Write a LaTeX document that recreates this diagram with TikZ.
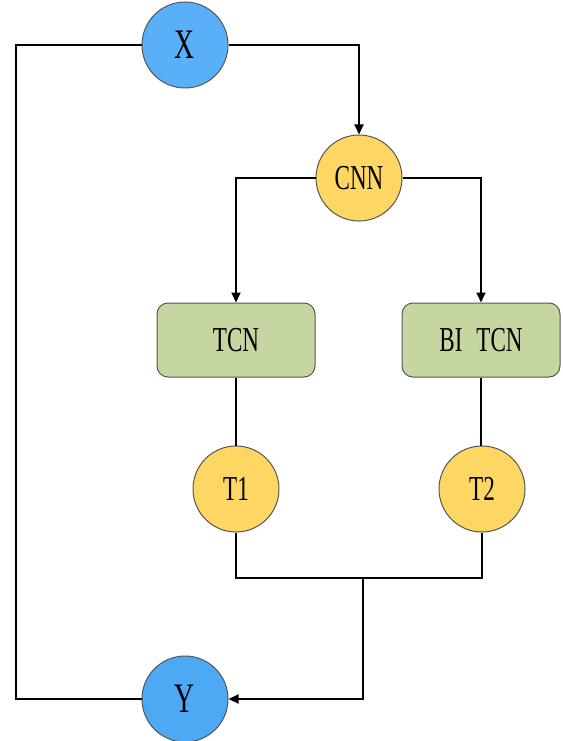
\documentclass[tikz,border=0pt]{standalone}
\usepackage{fontspec}
\setmainfont{Liberation Serif}
\newfontfamily\condfont[FakeStretch=0.66]{Liberation Serif}
\usetikzlibrary{arrows.meta}
\definecolor{cblue}{HTML}{5AB0F8}
\definecolor{cblueb}{HTML}{4EA9F5}
\definecolor{cyel}{HTML}{FDD663}
\definecolor{cgreen}{HTML}{C5D6A0}
\definecolor{cedge}{HTML}{555555}
\begin{document}
\begin{tikzpicture}[x=1pt,y=-1pt,
  circ/.style={circle,draw=cedge,line width=1pt,minimum size=86pt,inner sep=0pt,font=\condfont\fontsize{35}{35}\selectfont},
  bigcirc/.style={circ,font=\condfont\fontsize{42}{42}\selectfont},
  boxnode/.style={rectangle,rounded corners=11pt,draw=cedge,line width=1pt,fill=cgreen,minimum width=158pt,minimum height=74pt,inner sep=0pt,font=\condfont\fontsize{35}{35}\selectfont},
  conn/.style={line width=1.8pt,black},
  arr/.style={conn,-{Triangle[length=10pt,width=9pt]}}]
\useasboundingbox (0,0) rectangle (562,741);
\node[bigcirc,fill=cblue] (X) at (185,45) {X};
\node[bigcirc,fill=cblueb] (Y) at (185,699) {Y};
\node[circ,fill=cyel] (CNN) at (359,178) {CNN};
\node[boxnode] (TCN) at (236,340) {TCN};
\node[boxnode] (BI) at (481,340) {BI\hspace{14pt}TCN};
\node[circ,fill=cyel] (T1) at (236,489) {T1};
\node[circ,fill=cyel] (T2) at (482,489) {T2};
\coordinate (lc) at (16,45);
\coordinate (m) at (363,578);
\draw[conn] (X.west) -- (lc) |- (Y.west);
\draw[arr] (X.east) -| (CNN.north);
\draw[arr] (CNN.west) -| (TCN.north);
\draw[arr] (CNN.east) -| (BI.north);
\draw[conn] (TCN.south) -- (T1.north);
\draw[conn] (BI.south) -- (BI.south |- T2.north);
\draw[conn] (T1.south) |- (m) -| (T2.south);
\draw[arr] (m) |- (Y.east);
\end{tikzpicture}
\end{document}
